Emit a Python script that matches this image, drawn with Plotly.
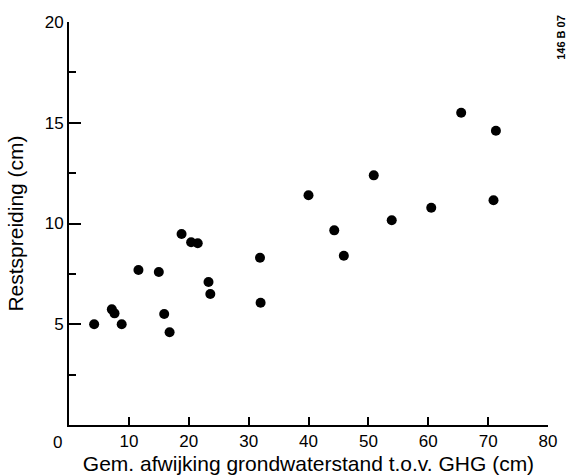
import plotly.graph_objects as go

# Data
x_afwijking = [4.2, 7.15, 7.6, 8.8, 11.6, 15.0, 15.9, 16.8, 18.8, 20.4, 21.5,
               23.3, 23.6, 31.9, 32.0, 40.0, 44.3, 45.9, 50.9, 53.9, 60.5,
               65.5, 70.9, 71.3]
y_restspreiding = [5.0, 5.74, 5.54, 5.0, 7.69, 7.59, 5.51, 4.6, 9.48, 9.07, 9.02,
                   7.1, 6.5, 8.3, 6.07, 11.4, 9.66, 8.4, 12.39, 10.16, 10.78,
                   15.5, 11.15, 14.6]

x_ticks = [10, 20, 30, 40, 50, 60, 70, 80]
y_ticks = [5, 10, 15, 20]

FONT = "Liberation Sans, Arial, Helvetica, sans-serif"

fig = go.Figure()
fig.add_trace(go.Scatter(
    x=x_afwijking, y=y_restspreiding, mode="markers",
    marker=dict(color="black", size=10, line=dict(width=0)),
    showlegend=False, hoverinfo="x+y",
))

fig.update_layout(
    width=566, height=475,
    margin=dict(l=69, r=18, t=22, b=50, autoexpand=False),
    paper_bgcolor="white", plot_bgcolor="white",
    font=dict(family=FONT, color="black"),
    xaxis=dict(
        range=[0, 80], showgrid=False, zeroline=False, automargin=False,
        showline=True, linecolor="black", linewidth=2,
        ticks="inside", ticklen=8, tickwidth=2, tickcolor="black",
        tickvals=x_ticks, ticktext=[str(v) for v in x_ticks],
        tickfont=dict(size=17, family=FONT, color="black"),
        title=dict(text="Gem. afwijking grondwaterstand t.o.v. GHG (cm)",
                   font=dict(size=21, family=FONT, color="black")),
    ),
    yaxis=dict(
        range=[0, 20], showgrid=False, zeroline=False, automargin=False,
        showline=True, linecolor="black", linewidth=2,
        ticks="inside", ticklen=12, tickwidth=2, tickcolor="black",
        tickvals=y_ticks, ticktext=[str(v) for v in y_ticks],
        tickfont=dict(size=17, family=FONT, color="black"),
        minor=dict(tickvals=[2.5, 7.5, 12.5, 17.5], ticks="inside",
                   ticklen=7, tickwidth=2, tickcolor="black"),
        title=dict(text="Restspreiding (cm)",
                   font=dict(size=21, family=FONT, color="black")),
    ),
    annotations=[
        dict(text="0", xref="paper", yref="paper", x=-0.023, y=-0.015,
             xanchor="center", yanchor="top", showarrow=False,
             font=dict(size=17, family=FONT, color="black")),
        dict(text="<b>146 B 07</b>", xref="paper", yref="paper", x=1.027, y=0.963,
             xanchor="center", yanchor="middle", showarrow=False, textangle=-90,
             font=dict(size=11, family=FONT, color="black")),
    ],
)

fig.write_html(
    "out.html",
    config={"displayModeBar": False},
    post_script="document.body.style.margin='0';document.body.style.overflow='hidden';",
)
